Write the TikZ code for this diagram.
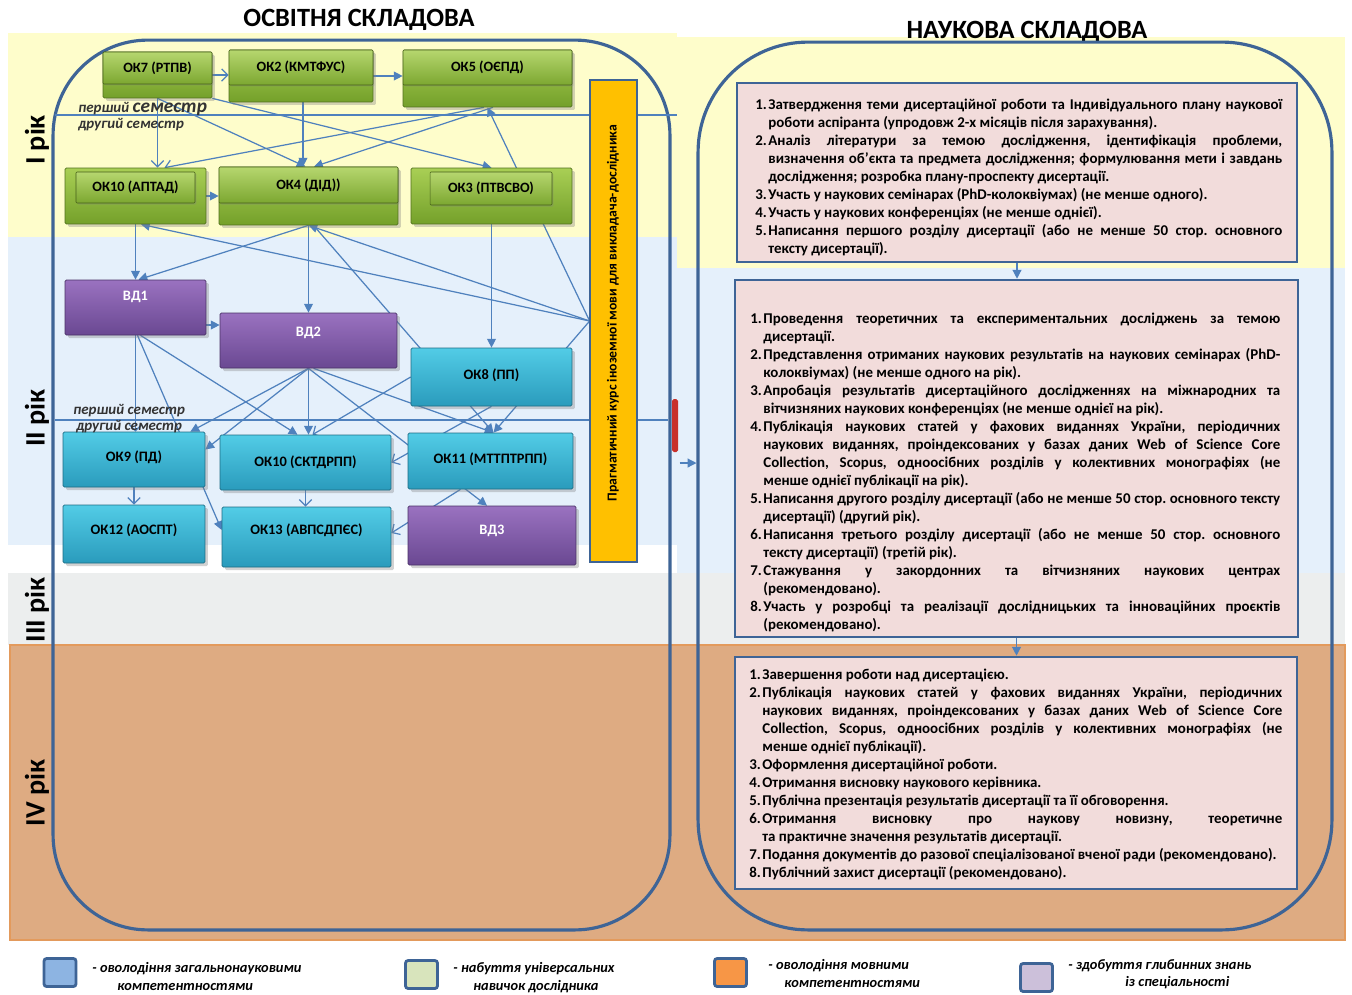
\documentclass[tikz,border=0pt]{standalone}
\usepackage{fontspec}
\setmainfont{Carlito}
\usepackage{tikz}
\usetikzlibrary{positioning,calc,arrows.meta,shadows}

\definecolor{bandyellow}{HTML}{FEFDCB}
\definecolor{bandblue}{HTML}{E5F0FB}
\definecolor{bandgray}{HTML}{ECEEEE}
\definecolor{bandorange}{HTML}{DEAB82}
\definecolor{bandorangeline}{HTML}{E39A5C}
\definecolor{frameblue}{HTML}{3E6496}
\definecolor{arrowblue}{HTML}{4F81BD}
\definecolor{greentop}{HTML}{A9CF55}
\definecolor{greenbot}{HTML}{74A02A}
\definecolor{purpletop}{HTML}{9A72C0}
\definecolor{purplebot}{HTML}{6A4892}
\definecolor{cyantop}{HTML}{52CCE6}
\definecolor{cyanbot}{HTML}{2A9BBC}
\definecolor{pinkfill}{HTML}{F2DCDB}
\definecolor{barorange}{HTML}{FFC000}
\definecolor{redmark}{HTML}{C8302A}
\definecolor{legblue}{HTML}{8DB4E2}
\definecolor{leggreen}{HTML}{D8E4BC}
\definecolor{legorange}{HTML}{F79646}
\definecolor{legviolet}{HTML}{CCC0DA}

\hyphenpenalty=10000
\exhyphenpenalty=10000
\tolerance=10000
\frenchspacing
\newcommand{\punkt}[2]{\par\hangindent=0.26cm\hangafter=1\noindent\strut\makebox[0.26cm][l]{#1}#2\par}

\tikzset{
	kastenbasis/.style={rectangle, inner sep=0pt, rounded corners=0.8pt, line width=0.4pt, drop shadow={shadow xshift=0.06cm, shadow yshift=-0.06cm, opacity=0.35}},
	greenbox/.style={kastenbasis, draw=greenbot!70!black, top color=greentop, bottom color=greenbot},
	greentab/.style={rectangle, inner sep=0pt, rounded corners=0.6pt, draw=greenbot!60!black, line width=0.3pt, top color=greentop!85!white, bottom color=greenbot!85!greentop, font=\fontsize{8.1}{9}\selectfont\bfseries, drop shadow={shadow xshift=0.03cm, shadow yshift=-0.03cm, opacity=0.3}},
	purplebox/.style={kastenbasis, draw=purplebot!70!black, top color=purpletop, bottom color=purplebot},
	cyanbox/.style={kastenbasis, draw=cyanbot!70!black, top color=cyantop, bottom color=cyanbot},
	boxlabel/.style={inner sep=0pt, font=\fontsize{8.2}{9}\selectfont\bfseries},
	arr/.style={draw=arrowblue, line width=0.7pt, -{Triangle[length=5pt,width=5pt]}},
	arro/.style={draw=arrowblue, line width=0.7pt, -{Straight Barb[length=3.5pt,width=7pt]}},
	semline/.style={draw=arrowblue, line width=0.7pt},
	semtext/.style={inner sep=0pt, anchor=west, text=black!80, font=\fontsize{8.5}{9}\selectfont\bfseries\itshape},
	yeartext/.style={inner sep=0pt, rotate=90, font=\fontsize{16}{16}\selectfont\bfseries},
	titletext/.style={inner sep=0pt, font=\fontsize{15}{15}\selectfont\bfseries},
	bigframe/.style={rectangle, draw=frameblue, line width=1.8pt, inner sep=0pt},
	pinkbox/.style={rectangle, fill=pinkfill, draw=frameblue, line width=1.5pt, inner sep=0pt},
	punkte/.style={anchor=north west, inner sep=0pt, align=justify, font=\fontsize{8.5}{10.24}\selectfont\bfseries},
	legicon/.style={rectangle, draw=frameblue, line width=1.6pt, rounded corners=1.5pt, minimum width=0.64cm, minimum height=0.56cm, inner sep=0pt},
	legtext/.style={inner sep=0pt, anchor=west, font=\fontsize{8.2}{9}\selectfont\bfseries\itshape},
}

\begin{document}
\begin{tikzpicture}[x=0.02cm,y=-0.02cm]
	\useasboundingbox (0,0) rectangle (1352,994);
	\fill[white] (0,0) rectangle (1352,994);
	\fill[bandyellow] (8,33) rectangle (677,237);
	\fill[bandyellow] (677,37) rectangle (1345,268);
	\fill[bandblue] (8,237) rectangle (677,545);
	\fill[bandblue] (677,268) rectangle (1345,575);
	\fill[bandgray] (8,573) rectangle (1345,645);
	\filldraw[fill=bandorange, draw=bandorangeline, line width=1.2pt] (10,645) rectangle (1345,940);

	\node[titletext] (titel1) at (359,20) {ОСВІТНЯ СКЛАДОВА};
	\node[titletext] (titel2) at (1027,32) {НАУКОВА СКЛАДОВА};

	\node[yeartext] (jahr1) at (37,140) {I рік};
	\node[yeartext] (jahr2) at (37,418) {II рік};
	\node[yeartext] (jahr3) at (37,610) {III рік};
	\node[yeartext] (jahr4) at (37,793) {IV рік};

	\node[bigframe, rounded corners=1.9cm, minimum width=12.34cm, minimum height=17.8cm] (osvita) at (361.5,485) {};
	\node[bigframe, rounded corners=2.2cm, minimum width=12.68cm, minimum height=17.76cm] (nauka) at (1015,486) {};

	\draw[semline] (55,115) -- (677,115);
	\draw[semline] (55,420) -- (668,420);

	\node[rectangle, inner sep=0pt, minimum width=0.94cm, minimum height=9.64cm] (kurs) at (613.5,321) {};

	\node[rectangle, inner sep=0pt, minimum width=2.18cm, minimum height=0.92cm] (ok7) at (157.5,75) {};
	\node[rectangle, inner sep=0pt, minimum width=2.88cm, minimum height=1.04cm] (ok2) at (301,76) {};
	\node[rectangle, inner sep=0pt, minimum width=3.38cm, minimum height=1.14cm] (ok5) at (487.5,78.5) {};
	\node[rectangle, inner sep=0pt, minimum width=2.82cm, minimum height=1.12cm] (ok10a) at (135.5,196) {};
	\node[rectangle, inner sep=0pt, minimum width=3.58cm, minimum height=1.16cm] (ok4) at (308.5,196) {};
	\node[rectangle, inner sep=0pt, minimum width=3.22cm, minimum height=1.12cm] (ok3) at (491.5,196) {};
	\node[rectangle, inner sep=0pt, minimum width=2.82cm, minimum height=1.10cm] (vd1) at (135.5,307.5) {};
	\node[rectangle, inner sep=0pt, minimum width=3.54cm, minimum height=1.10cm] (vd2) at (308.5,340.5) {};
	\node[rectangle, inner sep=0pt, minimum width=3.36cm, minimum height=1.18cm] (vd3) at (492,535.5) {};
	\node[rectangle, inner sep=0pt, minimum width=3.22cm, minimum height=1.16cm] (ok8) at (491.5,377) {};
	\node[rectangle, inner sep=0pt, minimum width=2.84cm, minimum height=1.10cm] (ok9) at (134,459.5) {};
	\node[rectangle, inner sep=0pt, minimum width=3.42cm, minimum height=1.10cm] (ok10s) at (305.5,462.5) {};
	\node[rectangle, inner sep=0pt, minimum width=3.30cm, minimum height=1.12cm] (ok11) at (490.5,461) {};
	\node[rectangle, inner sep=0pt, minimum width=2.84cm, minimum height=1.16cm] (ok12) at (134,534) {};
	\node[rectangle, inner sep=0pt, minimum width=3.38cm, minimum height=1.20cm] (ok13) at (306.5,537) {};

	\draw[arro] (ok7.east) -- (ok7.east -| ok2.west);
	\draw[arr] (ok2.east) -- (ok2.east -| ok5.west);
	\draw[arro] (ok7.south) -- (ok7.south |- ok10a.north);
	\draw[arr] (ok7.south) -- ([xshift=-0.06cm]ok4.north);
	\draw[arr] (ok7.south east) -- (ok3.north);
	\draw[arr] ([xshift=0.04cm]ok2.south) -- ([xshift=0.04cm]ok2.south |- ok4.north);
	\draw[arro] ([xshift=-0.07cm]ok5.south) -- ([xshift=0.58cm]ok10a.north);
	\draw[arr] ([xshift=0.11cm]ok5.south) -- ([xshift=0.11cm]ok4.north);
	\draw[arr] (ok10a.east) -- (ok4.west);
	\draw[arr] (kurs.west) -- (ok5.south);
	\draw[arr] (kurs.west) -- ([xshift=0.11cm]ok10a.south);
	\draw[arr] (kurs.west) -- (ok4.south);
	\draw[arr] (kurs.west) -- ([xshift=0.06cm]ok11.north);
	\draw[arr] (ok10a.south) -- (ok10a.south |- vd1.north);
	\draw[arr] (ok4.south) -- ([xshift=0.06cm]vd1.north);
	\draw[arr] (ok4.south) -- (ok4.south |- vd2.north);
	\draw[arr] ([xshift=0.1cm]ok4.south) -- ([xshift=0.06cm]ok11.north);
	\draw[arr] (ok3.south) -- (ok3.south |- ok8.north);
	\draw[arr] ([yshift=0.31cm]vd2.west -| vd1.east) -- ([yshift=0.31cm]vd2.west);
	\draw[arro] (vd1.south) -- (vd1.south |- ok9.north);
	\draw[arr] ([xshift=0.1cm]vd1.south) -- ([xshift=-0.16cm]ok10s.north);
	\draw[arr] ([xshift=0.04cm]vd1.south) -- ([yshift=0.14cm]ok13.west);
	\draw[arr] (vd2.south) -- (vd2.south |- ok10s.north);
	\draw[arr] (vd2.south) -- ([xshift=-0.3cm]ok9.north east);
	\draw[arr] (vd2.south) -- ([yshift=0.2cm]ok9.east);
	\draw[arr] ([xshift=0.1cm]vd2.south) -- ([xshift=0.06cm]ok11.north);
	\draw[arr] (vd2.south) -- ([xshift=-0.1cm]vd3.north);
	\draw[arro] (ok8.south) -- (ok10s.east);
	\draw[arro] (ok8.west) -- ([xshift=0.14cm]ok10s.north);
	\draw[arro] ([xshift=-0.6cm]ok11.south) -- ([yshift=0.08cm]ok13.east);
	\draw[arro] (ok9.south) -- (ok9.south |- ok12.north);
	\draw[arro] (ok10s.south) -- (ok10s.south |- ok13.north);

	\node[greenbox, minimum width=2.18cm, minimum height=0.92cm] at (ok7) {};
	\node[greenbox, minimum width=2.88cm, minimum height=1.04cm] at (ok2) {};
	\node[greenbox, minimum width=3.38cm, minimum height=1.14cm] at (ok5) {};
	\node[greenbox, minimum width=2.82cm, minimum height=1.12cm] at (ok10a) {};
	\node[greenbox, minimum width=3.58cm, minimum height=1.16cm] at (ok4) {};
	\node[greenbox, minimum width=3.22cm, minimum height=1.12cm] at (ok3) {};
	\node[greentab, minimum width=2.18cm, minimum height=0.64cm] (ok7t) at (157.5,68) {ОК7 (РТПВ)};
	\node[greentab, minimum width=2.88cm, minimum height=0.70cm] (ok2t) at (301,67.5) {ОК2 (КМТФУС)};
	\node[greentab, minimum width=3.38cm, minimum height=0.70cm] (ok5t) at (487.5,67.5) {ОК5 (ОЄПД)};
	\node[greentab, minimum width=2.38cm, minimum height=0.62cm] (ok10at) at (135.5,187.5) {ОК10 (АПТАД)};
	\node[greentab, minimum width=3.58cm, minimum height=0.72cm] (ok4t) at (308.5,185) {ОК4 (ДІД))};
	\node[greentab, minimum width=2.44cm, minimum height=0.66cm] (ok3t) at (491,188.5) {ОК3 (ПТВСВО)};

	\node[purplebox, minimum width=2.82cm, minimum height=1.10cm] at (vd1) {};
	\node[purplebox, minimum width=3.54cm, minimum height=1.10cm] at (vd2) {};
	\node[purplebox, minimum width=3.36cm, minimum height=1.18cm] at (vd3) {};
	\node[cyanbox, minimum width=3.22cm, minimum height=1.16cm] at (ok8) {};
	\node[cyanbox, minimum width=2.84cm, minimum height=1.10cm] at (ok9) {};
	\node[cyanbox, minimum width=3.42cm, minimum height=1.10cm] at (ok10s) {};
	\node[cyanbox, minimum width=3.30cm, minimum height=1.12cm] at (ok11) {};
	\node[cyanbox, minimum width=2.84cm, minimum height=1.16cm] at (ok12) {};
	\node[cyanbox, minimum width=3.38cm, minimum height=1.20cm] at (ok13) {};
	\node[boxlabel, text=white] (vd1l) at (135.5,297) {ВД1};
	\node[boxlabel, text=white] (vd2l) at (308.5,333) {ВД2};
	\node[boxlabel, text=white] (vd3l) at (492,531) {ВД3};
	\node[boxlabel] (ok8l) at (491.5,375) {ОК8 (ПП)};
	\node[boxlabel] (ok9l) at (134,457) {ОК9 (ПД)};
	\node[boxlabel] (ok10sl) at (305.5,462) {ОК10 (СКТДРПП)};
	\node[boxlabel] (ok11l) at (490.5,459) {ОК11 (МТТПТРПП)};
	\node[boxlabel] (ok12l) at (134,530) {ОК12 (АОСПТ)};
	\node[boxlabel] (ok13l) at (306.5,530) {ОК13 (АВПСДПЄС)};

	\node[rectangle, fill=barorange, draw=frameblue, line width=1.4pt, minimum width=0.94cm, minimum height=9.64cm] at (kurs) {};
	\node[inner sep=0pt, rotate=90, font=\fontsize{7.8}{9}\selectfont\bfseries] (kurstext) at (613,313) {Прагматичний курс іноземної мови для викладача-дослідника};

	\node[semtext] (sem1a) at (78,109) {перший {\fontsize{11}{12}\selectfont семестр}};
	\node[semtext] (sem1b) at (78,125) {другий семестр};
	\node[semtext] (sem2a) at (73,411) {перший семестр};
	\node[semtext] (sem2b) at (76,427) {другий семестр};

	\fill[redmark, rounded corners=1pt] (672,399) rectangle (678,452);
	\coordinate (pfeil) at ([yshift=0.44cm]osvita.east);
	\draw[arr] ([xshift=0.16cm]pfeil) -- (pfeil -| nauka.west);

	\node[pinkbox, minimum width=11.2cm, minimum height=3.58cm] (etap1) at (1017,172.5) {};
	\node[pinkbox, minimum width=11.26cm, minimum height=7.14cm] (etap2) at (1016.5,458.5) {};
	\node[pinkbox, minimum width=11.24cm, minimum height=4.64cm] (etap3) at (1016,773) {};
	\draw[arr] (etap1.south) -- (etap1.south |- etap2.north);
	\draw[arr] (etap2.south) -- (etap2.south |- etap3.north);

	\node[punkte, text width=10.54cm] (text1) at (755,91) {
		\punkt{1.}{Затвердження теми дисертаційної роботи та Індивідуального плану наукової \linebreak роботи аспіранта (упродовж 2-х місяців після зарахування).}
		\punkt{2.}{Аналіз літератури за темою дослідження, ідентифікація проблеми, \linebreak визначення об’єкта та предмета дослідження; формулювання мети і завдань \linebreak дослідження; розробка плану-проспекту дисертації.}
		\punkt{3.}{Участь у наукових семінарах (PhD-колоквіумах) (не менше одного).}
		\punkt{4.}{Участь у наукових конференціях (не менше однієї).}
		\punkt{5.}{Написання першого розділу дисертації (або не менше 50 стор. основного \linebreak тексту дисертації).}
	};
	\node[punkte, text width=10.6cm] (text2) at (750,305) {
		\punkt{1.}{Проведення теоретичних та експериментальних досліджень за темою \linebreak дисертації.}
		\punkt{2.}{Представлення отриманих наукових результатів на наукових семінарах (PhD-\linebreak колоквіумах) (не менше одного на рік).}
		\punkt{3.}{Апробація результатів дисертаційного дослідженнях на міжнародних та \linebreak вітчизняних наукових конференціях (не менше однієї на рік).}
		\punkt{4.}{Публікація наукових статей у фахових виданнях України, періодичних \linebreak наукових виданнях, проіндексованих у базах даних Web of Science Core \linebreak Collection, Scopus, одноосібних розділів у колективних монографіях (не \linebreak менше однієї публікації на рік).}
		\punkt{5.}{Написання другого розділу дисертації (або не менше 50 стор. основного тексту \linebreak дисертації) (другий рік).}
		\punkt{6.}{Написання третього розділу дисертації (або не менше 50 стор. основного \linebreak тексту дисертації) (третій рік).}
		\punkt{7.}{Стажування у закордонних та вітчизняних наукових центрах \linebreak (рекомендовано).}
		\punkt{8.}{Участь у розробці та реалізації дослідницьких та інноваційних проєктів \linebreak (рекомендовано).}
	};
	\node[punkte, text width=10.66cm] (text3) at (749,661) {
		\punkt{1.}{Завершення роботи над дисертацією.}
		\punkt{2.}{Публікація наукових статей у фахових виданнях України, періодичних \linebreak наукових виданнях, проіндексованих у базах даних Web of Science Core \linebreak Collection, Scopus, одноосібних розділів у колективних монографіях (не \linebreak менше однієї публікації).}
		\punkt{3.}{Оформлення дисертаційної роботи.}
		\punkt{4.}{Отримання висновку наукового керівника.}
		\punkt{5.}{Публічна презентація результатів дисертації та її обговорення.}
		\punkt{6.}{Отримання висновку про наукову новизну, теоретичне \linebreak та практичне значення результатів дисертації.}
		\punkt{7.}{Подання документів до разової спеціалізованої вченої ради (рекомендовано).}
		\punkt{8.}{Публічний захист дисертації (рекомендовано).}
	};

	\node[legicon, fill=legblue] (leg1) at (60,972.5) {};
	\node[legicon, fill=leggreen] (leg2) at (421.5,974.5) {};
	\node[legicon, fill=legorange] (leg3) at (730.5,972.5) {};
	\node[legicon, fill=legviolet] (leg4) at (1036.5,977.5) {};
	\node[legtext] (leg1a) at (92,969) {- оволодіння загальнонауковими};
	\node[legtext] (leg1b) at (117,987) {компетентностями};
	\node[legtext] (leg2a) at (453,969) {- набуття універсальних};
	\node[legtext] (leg2b) at (473,987) {навичок дослідника};
	\node[legtext] (leg3a) at (768,966) {- оволодіння мовними};
	\node[legtext] (leg3b) at (784,984) {компетентностями};
	\node[legtext] (leg4a) at (1068,966) {- здобуття глибинних знань};
	\node[legtext] (leg4b) at (1125,983) {із спеціальності};
\end{tikzpicture}
\end{document}
